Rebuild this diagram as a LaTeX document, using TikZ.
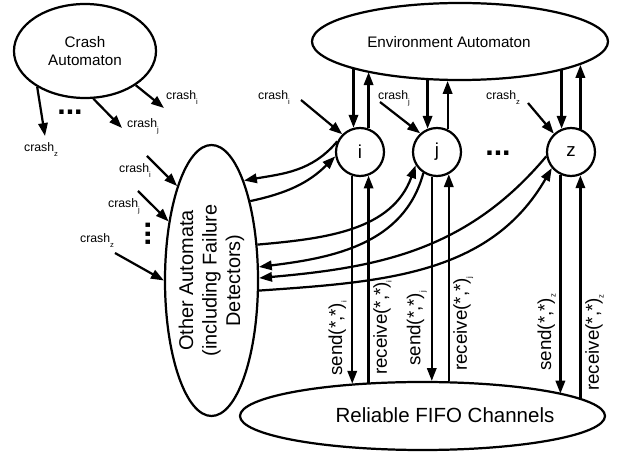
\documentclass[tikz,border=0pt]{standalone}
\usepackage{fontspec}
\setmainfont{Liberation Sans}
\usetikzlibrary{arrows.meta, shapes.geometric, positioning}

\newcommand{\ix}[1]{\raisebox{-4pt}{\fontsize{6.5}{6.5}\selectfont #1}}

\begin{document}
\begin{tikzpicture}[x=0.03cm, y=-0.03cm, line width=1.9pt,
    arr/.style={-{Triangle[length=11pt,width=8pt]}},
    automaton/.style={ellipse, draw, inner sep=0pt},
    proc/.style={circle, draw, minimum size=1.44cm, inner sep=0pt, font=\fontsize{16}{16}\selectfont},
    crashlbl/.style={font=\fontsize{10.5}{12}\selectfont, inner sep=0pt, anchor=base west},
    chanlbl/.style={font=\fontsize{16}{18}\selectfont, rotate=90, inner sep=1pt},
    dotsep/.style={font=\fontsize{26}{26}\selectfont\bfseries, inner sep=0pt, anchor=base}]
    \useasboundingbox (0,0) rectangle (630,455);

    % Automata
    \node[automaton, minimum width=4.26cm, minimum height=2.82cm, align=center,
          font=\fontsize{13}{15.6}\selectfont] (crash) at (85,51) {Crash\\Automaton};
    \node[automaton, minimum width=8.88cm, minimum height=2.31cm] (env) at (460,41.5) {};
    \node[font=\fontsize{13}{15}\selectfont] (envtxt) at (449,42) {Environment Automaton};
    \node[automaton, minimum width=2.79cm, minimum height=8.13cm] (oa) at (211.5,280.5) {};
    \node[rotate=90, align=center, font=\fontsize{17}{20}\selectfont] (oatxt) at (oa.center)
        {Other Automata\\(including Failure\\Detectors)};
    \node[automaton, minimum width=10.95cm, minimum height=2.04cm] (fifo) at (422.5,416) {};
    \node[font=\fontsize{17.5}{20}\selectfont] (fifotxt) at (445,415) {Reliable FIFO Channels};

    % Processes
    \node[proc] (i) at (360,152) {i};
    \node[proc] (j) at (437,152) {j};
    \node[proc] (z) at (571,152) {z};
    \node[dotsep] (pdots) at (498,156) {...};

    % Crash outputs
    \coordinate (cz) at (45,136);
    \coordinate (cj) at (122,128);
    \coordinate (ci) at (164,108);
    \draw[arr] (crash.-143) -- (cz);
    \draw[arr] (crash.-80) -- (cj);
    \draw[arr] (crash.-34) -- (ci);
    \node[crashlbl] (lcz) at (23,152) {crash\ix{z}};
    \node[crashlbl] (lcj) at (126,128) {crash\ix{j}};
    \node[crashlbl] (lci) at (165,100) {crash\ix{i}};
    \node[dotsep] (cdots) at (70,115) {...};

    % Crash inputs of the other automata
    \coordinate (oi) at (147,156);
    \coordinate (oj) at (138,191);
    \coordinate (oz) at (115,253);
    \draw[arr] (oi) -- (oa.110);
    \draw[arr] (oj) -- (oa.126);
    \draw[arr] (oz) -- (oa.west);
    \node[crashlbl] (loi) at (118,173) {crash\ix{i}};
    \node[crashlbl] (loj) at (107,208) {crash\ix{j}};
    \node[crashlbl] (loz) at (79,243) {crash\ix{z}};
    \node[dotsep, rotate=90] (odots) at (150,234) {...};

    % Crash inputs of the processes
    \coordinate (ti) at (301,100);
    \coordinate (tj) at (380,102);
    \coordinate (tz) at (528,103);
    \draw[arr] (ti) -- (i.135);
    \draw[arr] (tj) -- (j.132);
    \draw[arr] (tz) -- (z.133);
    \node[crashlbl] (lti) at (257,100) {crash\ix{i}};
    \node[crashlbl] (ltj) at (377,100) {crash\ix{j}};
    \node[crashlbl] (ltz) at (485,100) {crash\ix{z}};

    % Environment <-> processes
    \draw[arr] (i.105 |- env.-166) -- (i.105);
    \draw[arr] (i.70) -- (i.70 |- env.-162);
    \draw[arr] (j.112 |- env.-130) -- (j.112);
    \draw[arr] (j.65) -- (j.65 |- env.-109);
    \draw[arr] (z.112 |- env.-15) -- (z.112);
    \draw[arr] (z.68) -- (z.68 |- env.-11);

    % Processes <-> channels
    \draw[arr] (i.-108) -- (i.-108 |- fifo.156);
    \draw[arr] (i.-70 |- fifo.149) -- (i.-70);
    \draw[arr] (j.-102) -- (j.-102 |- fifo.74);
    \draw[arr] (j.-62 |- fifo.53) -- (j.-62);
    \draw[arr] (z.-115) -- (z.-115 |- fifo.9);
    \draw[arr] (z.-68 |- fifo.6) -- (z.-68);
    \node[chanlbl, anchor=south west] (si) at (349,378) {send(*,*)\ix{i}};
    \node[chanlbl, anchor=north west] (ri) at (371,377) {receive(*,*)\ix{i}};
    \node[chanlbl, anchor=south west] (sj) at (429,368) {send(*,*)\ix{j}};
    \node[chanlbl, anchor=north west] (rj) at (451,373) {receive(*,*)\ix{j}};
    \node[chanlbl, anchor=south west] (sz) at (558,373) {send(*,*)\ix{z}};
    \node[chanlbl, anchor=north west] (rz) at (583,393) {receive(*,*)\ix{z}};

    % Processes <-> other automata
    \draw[arr] (i.155) to[out=230, in=10] (oa.72);
    \draw[arr] (oa.64) to[out=12, in=225] (i.190);
    \draw[arr] (oa.38) to[out=5, in=250] (j.212);
    \draw[arr] (j.237) to[out=255, in=7] (oa.16);
    \draw[arr] (z.190) to[out=230, in=5] (oa.3);
    \draw[arr] (oa.-12) to[out=4, in=240] (z.220);
\end{tikzpicture}
\end{document}
